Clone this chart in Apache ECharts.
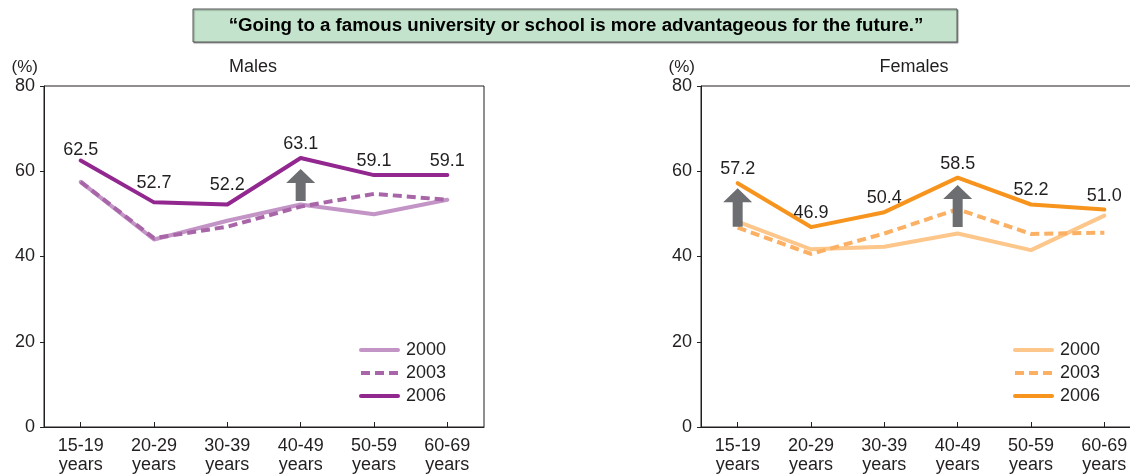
<!DOCTYPE html>
<html>
<head>
<meta charset="utf-8">
<script src="https://cdn.jsdelivr.net/npm/echarts@6/dist/echarts.min.js"></script>
<style>
  html, body { margin: 0; padding: 0; background: #ffffff; }
  #chart { width: 1130px; height: 474px; }
</style>
</head>
<body>
<div id="chart"></div>
<script>
// Age groups on the horizontal axis
const ageGroups = ['15-19\nyears', '20-29\nyears', '30-39\nyears', '40-49\nyears', '50-59\nyears', '60-69\nyears'];
const surveyYears = ['2000', '2003', '2006'];

// Share answering "yes" (%), by survey year
const males2000 = [57.5, 44.0, 48.4, 52.2, 49.9, 53.3];
const males2003 = [57.5, 44.3, 47.0, 51.7, 54.7, 53.3];
const males2006 = [62.5, 52.7, 52.2, 63.1, 59.1, 59.1];

const females2000 = [48.2, 41.7, 42.3, 45.4, 41.5, 49.6];
const females2003 = [46.8, 40.6, 45.4, 51.1, 45.3, 45.6];
const females2006 = [57.2, 46.9, 50.4, 58.5, 52.2, 51.0];

// Rise arrows: [age group index, from %, to %]
const maleArrows = [[3, 53.0, 60.5]];
const femaleArrows = [[0, 47.0, 56.0], [3, 46.9, 56.8]];

const yMin = 0, yMax = 80, yStep = 20;

const INK = '#231f20';
const FONT = '"Liberation Sans", Arial, Helvetica, sans-serif';

const palette = {
  Males:   { '2000': '#c394c6', '2003': '#a865a8', '2006': '#92278f' },
  Females: { '2000': '#fdc68a', '2003': '#fbb063', '2006': '#f7941d' }
};

const chart = echarts.init(document.getElementById('chart'), null, { renderer: 'canvas' });

function renderArrow(params, api) {
  const base = api.coord([api.value(0), api.value(1)]);
  const tip = api.coord([api.value(0), api.value(2)]);
  const x = base[0];
  const shaft = 5, head = 14.5, headH = 14;
  const neck = tip[1] + headH;
  return {
    type: 'polygon',
    shape: {
      points: [
        [x - shaft, base[1]], [x - shaft, neck], [x - head, neck],
        [x, tip[1]],
        [x + head, neck], [x + shaft, neck], [x + shaft, base[1]]
      ]
    },
    style: { fill: '#6d6e71' }
  };
}

function xAxisFor(gridIndex) {
  return {
    type: 'category',
    gridIndex: gridIndex,
    data: ageGroups,
    boundaryGap: true,
    axisLine: { lineStyle: { color: INK, width: 1 } },
    axisTick: { show: true, alignWithLabel: true, inside: true, length: 5, lineStyle: { color: INK } },
    axisLabel: { color: INK, fontSize: 18, lineHeight: 19, margin: 10, fontFamily: FONT, interval: 0 },
    splitLine: { show: false }
  };
}

function yAxisFor(gridIndex) {
  return {
    type: 'value',
    gridIndex: gridIndex,
    min: yMin, max: yMax, interval: yStep,
    name: '(%)',
    nameLocation: 'end',
    nameGap: 10,
    nameTextStyle: { color: INK, fontSize: 17, fontFamily: FONT, align: 'right', padding: [0, 6, 0, 0] },
    axisLine: { show: true, lineStyle: { color: INK, width: 1 } },
    axisTick: { show: true, length: 4, lineStyle: { color: INK } },
    axisLabel: { color: INK, fontSize: 18, margin: 9, fontFamily: FONT },
    splitLine: { show: false }
  };
}

function groupSeries(group, idx, values) {
  const [s2000, s2003, s2006] = values;
  const c = palette[group];
  // label gap above each 2006 point
  const labelGap = group === 'Males' ? [1, 9, 9, 4, 4, 4] : [4, 4, 4, 4, 4, 4];
  const base = {
    type: 'line',
    xAxisIndex: idx, yAxisIndex: idx,
    symbol: 'none',
    z: 2,
    animation: false
  };
  return [
    Object.assign({}, base, {
      name: group + ' 2000', data: s2000,
      itemStyle: { color: c['2000'] },
      lineStyle: { color: c['2000'], width: 4, cap: 'round', join: 'round' }
    }),
    Object.assign({}, base, {
      name: group + ' 2003', data: s2003,
      itemStyle: { color: c['2003'] },
      lineStyle: { color: c['2003'], width: 4, type: [9, 5], join: 'round' }
    }),
    Object.assign({}, base, {
      name: group + ' 2006',
      symbol: 'circle',
      symbolSize: 2,
      showSymbol: true,
      data: s2006.map((v, i) => ({ value: v, label: { distance: labelGap[i] } })),
      itemStyle: { color: c['2006'] },
      lineStyle: { color: c['2006'], width: 4, cap: 'round', join: 'round' },
      label: {
        show: true, position: 'top', color: INK, fontSize: 18, fontFamily: FONT,
        formatter: p => Number(p.value).toFixed(1)
      }
    })
  ];
}

function legendFor(group, left) {
  return {
    orient: 'vertical',
    left: left, top: 341,
    padding: 0,
    itemWidth: 37, itemHeight: 4, itemGap: 5,
    selectedMode: false,
    data: surveyYears.map(y => group + ' ' + y),
    formatter: n => n.split(' ')[1],
    lineStyle: { width: 4 },
    textStyle: { color: INK, fontSize: 18, lineHeight: 17, fontFamily: FONT, padding: [0, 0, 0, 3] }
  };
}

const option = {
  backgroundColor: '#ffffff',
  animation: false,
  textStyle: { fontFamily: FONT },
  grid: [
    { left: 44, top: 86, width: 440, height: 341, outerBoundsMode: 'none', containLabel: false, show: true, borderColor: INK, borderWidth: 1, backgroundColor: 'transparent' },
    { left: 701, top: 86, width: 440, height: 341, outerBoundsMode: 'none', containLabel: false, show: true, borderColor: INK, borderWidth: 1, backgroundColor: 'transparent' }
  ],
  xAxis: [xAxisFor(0), xAxisFor(1)],
  yAxis: [yAxisFor(0), yAxisFor(1)],
  legend: [legendFor('Males', 359), legendFor('Females', 1013)],
  graphic: [
    {
      type: 'rect',
      shape: { x: 193, y: 9, width: 764, height: 33 },
      style: { fill: '#c3e3cc', stroke: '#58595b', lineWidth: 1, shadowColor: 'rgba(0,0,0,0.35)', shadowOffsetX: 1, shadowOffsetY: 1, shadowBlur: 1 },
      z: 10
    },
    {
      type: 'text',
      style: {
        text: '\u201CGoing to a famous university or school is more advantageous for the future.\u201D',
        x: 576, y: 26, textAlign: 'center', textVerticalAlign: 'middle',
        font: 'bold 18.7px ' + FONT, fill: '#000000'
      },
      z: 11
    },
    {
      type: 'text',
      style: { text: 'Males', x: 253, y: 67, textAlign: 'center', textVerticalAlign: 'middle', font: '18px ' + FONT, fill: INK }
    },
    {
      type: 'text',
      style: { text: 'Females', x: 914, y: 67, textAlign: 'center', textVerticalAlign: 'middle', font: '18px ' + FONT, fill: INK }
    }
  ],
  series: [
    ...groupSeries('Males', 0, [males2000, males2003, males2006]),
    ...groupSeries('Females', 1, [females2000, females2003, females2006]),
    {
      type: 'custom', name: 'male rise', xAxisIndex: 0, yAxisIndex: 0,
      renderItem: renderArrow, data: maleArrows, encode: { x: 0, y: [1, 2] }, z: 3, silent: true
    },
    {
      type: 'custom', name: 'female rise', xAxisIndex: 1, yAxisIndex: 1,
      renderItem: renderArrow, data: femaleArrows, encode: { x: 0, y: [1, 2] }, z: 3, silent: true
    }
  ]
};

chart.setOption(option);
</script>
</body>
</html>
